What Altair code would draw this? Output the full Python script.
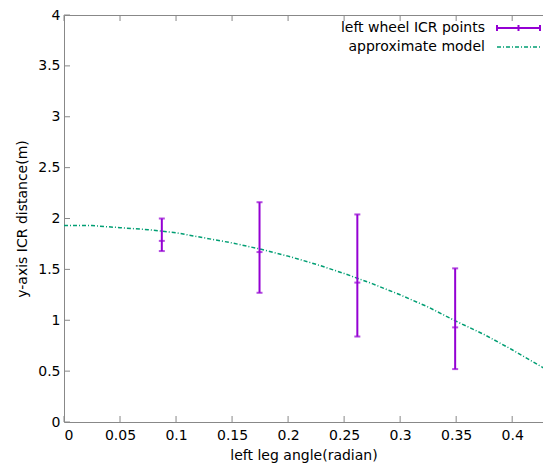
import altair as alt
import pandas as pd

# error-bar measurements
angles = [0.0873, 0.1745, 0.2618, 0.3491]
icr_mean = [1.78, 1.67, 1.37, 0.93]
icr_low = [1.68, 1.27, 0.84, 0.52]
icr_high = [2.00, 2.16, 2.04, 1.51]

# approximate model curve
model_x = [0.0, 0.025, 0.05, 0.075, 0.1, 0.125, 0.15, 0.175, 0.2, 0.225,
           0.25, 0.275, 0.3, 0.325, 0.35, 0.375, 0.4, 0.425, 0.435]
model_y = [1.93, 1.93, 1.91, 1.89, 1.86, 1.81, 1.76, 1.70, 1.63, 1.55,
           1.46, 1.36, 1.25, 1.13, 0.99, 0.86, 0.71, 0.55, 0.49]

x_ticks = [0, 0.05, 0.1, 0.15, 0.2, 0.25, 0.3, 0.35, 0.4]
y_ticks = [0, 0.5, 1, 1.5, 2, 2.5, 3, 3.5, 4]

legend_labels = ["left wheel ICR points", "approximate model"]

W, H = 479, 407
FONT = "DejaVu Sans"
PURPLE = "#9400d3"
TEAL = "#009e73"
AXC = "#888888"

xs = alt.Scale(domain=[0, 0.4275], nice=False, zero=False)
ys = alt.Scale(domain=[0, 4], nice=False)

pts = pd.DataFrame({"x": angles, "m": icr_mean, "lo": icr_low, "hi": icr_high})
model = pd.DataFrame({"x": model_x, "y": model_y})
xt = pd.DataFrame({"v": x_ticks})
yt = pd.DataFrame({"v": y_ticks})

axes_layer = alt.Chart(xt).mark_point(opacity=0).encode(
    x=alt.X("v:Q", scale=xs, title="left leg angle(radian)",
            axis=alt.Axis(values=x_ticks, format="~g", ticks=False, grid=False,
                          domainColor=AXC, labelPadding=6, titlePadding=6)),
    y=alt.Y("v:Q", scale=ys, title="y-axis ICR distance(m)",
            axis=alt.Axis(values=y_ticks, format="~g", ticks=False, grid=False,
                          domainColor=AXC, labelPadding=4, titlePadding=8)),
)

top_axis = alt.Chart(xt).mark_point(opacity=0).encode(
    x=alt.X("v:Q", scale=xs, title=None,
            axis=alt.Axis(orient="top", labels=False, ticks=False, grid=False,
                          domainColor=AXC)),
    y=alt.Y("v:Q", scale=ys, axis=None),
)

tick_bottom = alt.Chart(xt).mark_rule(color=AXC).encode(
    x=alt.X("v:Q", scale=xs, axis=None), y=alt.value(H), y2=alt.value(H - 6))
tick_top = alt.Chart(xt).mark_rule(color=AXC).encode(
    x=alt.X("v:Q", scale=xs, axis=None), y=alt.value(0), y2=alt.value(6))
tick_left = alt.Chart(yt).mark_rule(color=AXC).encode(
    y=alt.Y("v:Q", scale=ys, axis=None), x=alt.value(0), x2=alt.value(6))

curve = alt.Chart(model).mark_line(color=TEAL, strokeWidth=1.5,
                                   strokeDash=[4, 2, 1, 2], clip=True).encode(
    x=alt.X("x:Q", scale=xs, axis=None),
    y=alt.Y("y:Q", scale=ys, axis=None),
)

bars = alt.Chart(pts).mark_rule(color=PURPLE, strokeWidth=2).encode(
    x=alt.X("x:Q", scale=xs, axis=None),
    y=alt.Y("lo:Q", scale=ys, axis=None),
    y2="hi:Q",
)
cap_lo = alt.Chart(pts).mark_tick(color=PURPLE, orient="horizontal", size=6, thickness=2).encode(
    x=alt.X("x:Q", scale=xs, axis=None), y=alt.Y("lo:Q", scale=ys, axis=None))
cap_hi = alt.Chart(pts).mark_tick(color=PURPLE, orient="horizontal", size=6, thickness=2).encode(
    x=alt.X("x:Q", scale=xs, axis=None), y=alt.Y("hi:Q", scale=ys, axis=None))
cap_m = alt.Chart(pts).mark_tick(color=PURPLE, orient="horizontal", size=6, thickness=2).encode(
    x=alt.X("x:Q", scale=xs, axis=None), y=alt.Y("m:Q", scale=ys, axis=None))

# legend
LX, LY0, LDY = 421, 13, 19
leg_text = alt.Chart(pd.DataFrame({"label": [legend_labels[0]]})).mark_text(
    align="right", baseline="middle", font=FONT, fontSize=14, color="black").encode(
    text="label:N", x=alt.value(LX), y=alt.value(LY0))
leg_text2 = alt.Chart(pd.DataFrame({"label": [legend_labels[1]]})).mark_text(
    align="right", baseline="middle", font=FONT, fontSize=14, color="black").encode(
    text="label:N", x=alt.value(LX), y=alt.value(LY0 + LDY))
leg_bar = alt.Chart(pd.DataFrame({"label": [legend_labels[0]]})).mark_rule(
    color=PURPLE, strokeWidth=2).encode(
    x=alt.value(433), x2=alt.value(476), y=alt.value(LY0))
leg_caps = alt.Chart(pd.DataFrame({"px": [433, 454.5, 476]})).mark_rule(
    color=PURPLE, strokeWidth=2).encode(
    x=alt.X("px:Q", scale=None, axis=None), y=alt.value(LY0 - 3), y2=alt.value(LY0 + 3))
leg_line = alt.Chart(pd.DataFrame({"label": [legend_labels[1]]})).mark_rule(
    color=TEAL, strokeWidth=1.5, strokeDash=[4, 2, 1, 2]).encode(
    x=alt.value(433), x2=alt.value(476), y=alt.value(LY0 + LDY))

chart = alt.layer(
    axes_layer, top_axis, tick_bottom, tick_top, tick_left,
    curve, bars, cap_lo, cap_hi, cap_m,
    leg_text, leg_text2, leg_bar, leg_caps, leg_line,
).resolve_axis(x="independent", y="independent").properties(
    width=W, height=H,
    autosize=alt.AutoSizeParams(type="none"),
    padding={"left": 56, "top": 7, "right": 0, "bottom": 42},
).configure_view(stroke=None).configure_axis(
    labelFont=FONT, titleFont=FONT, labelFontSize=14, titleFontSize=14,
    labelColor="black", titleColor="black", titleFontWeight="normal",
)

chart.save("out.html", embed_options={"renderer": "svg", "actions": False})
